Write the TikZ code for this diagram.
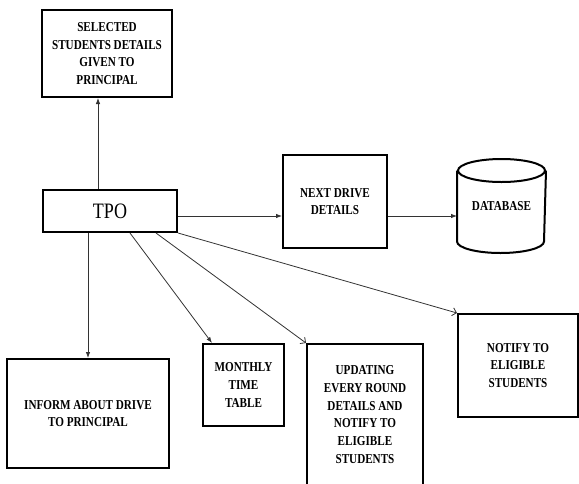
\documentclass[tikz,border=0pt]{standalone}
\usepackage{fontspec}
\setmainfont{Liberation Serif}
\newfontfamily\narrowfont[FakeStretch=0.82]{Liberation Serif}
\usetikzlibrary{arrows.meta}

\tikzset{
	box/.style = {draw, line width=2pt, align=center, inner sep=2pt,
		font=\narrowfont\bfseries\fontsize{13.6}{17.7}\selectfont},
	flow/.style = {draw=black!80, line width=0.8pt, -{Latex[length=6pt, width=4.5pt]}},
	openflow/.style = {draw=black!80, line width=0.8pt, -{Straight Barb[length=4pt, width=8pt]}}
}

\begin{document}
\begin{tikzpicture}[x=1pt, y=-1pt]

		\pgfmathsetmacro{\dbrx}{43.5}
		\pgfmathsetmacro{\dbry}{11.5}

		\useasboundingbox (0, 0) rectangle (579, 483);
		\clip (0, 0) rectangle (579, 483);

		% draw the boxes
		\node[box, minimum width=134pt, minimum height=42pt, font=\narrowfont\fontsize{22}{24}\selectfont] (tpo) at (110, 211) {TPO};
		\node[box, minimum width=130pt, minimum height=87pt] (selected) at (107, 53.5) {SELECTED\\STUDENTS DETAILS\\GIVEN TO\\PRINCIPAL};
		\node[box, minimum width=104pt, minimum height=93pt] (nextdrive) at (335, 201.5) {NEXT DRIVE\\DETAILS};
		\node[box, draw=none, minimum width=87pt, minimum height=92pt] (database) at (501.5, 206) {DATABASE};
		\node[box, minimum width=162pt, minimum height=109pt] (inform) at (88, 413.5) {INFORM ABOUT DRIVE\\TO PRINCIPAL};
		\node[box, minimum width=81pt, minimum height=82pt] (monthly) at (243.5, 385) {MONTHLY\\TIME\\TABLE};
		\node[box, minimum width=116pt, minimum height=141pt] (updating) at (365, 414.5) {UPDATING\\EVERY ROUND\\DETAILS AND\\NOTIFY TO\\ELIGIBLE\\STUDENTS};
		\node[box, minimum width=120pt, minimum height=103pt] (notify) at (518, 365.5) {NOTIFY TO\\ELIGIBLE\\STUDENTS};

		% draw the database cylinder
		\begin{scope}[line width=2pt]
			\draw ([yshift=-\dbry pt]database.north) ellipse [x radius=\dbrx pt, y radius=\dbry pt];
			\draw ([yshift=-\dbry pt]database.north west) --
				([yshift=\dbry pt]database.south west)
				arc [start angle=180, end angle=360, x radius=\dbrx pt, y radius=\dbry pt] --
				([yshift=-\dbry pt]database.north east);
		\end{scope}

		% draw the connectors
		\draw[flow] ([xshift=-12pt]tpo.north) -- ([xshift=-12pt]tpo.north |- selected.south);
		\draw[flow] ([yshift=-5pt]tpo.east) -- ([yshift=-5pt]tpo.east -| nextdrive.west);
		\draw[flow] ([yshift=-14.5pt]nextdrive.east) -- ([yshift=-14.5pt]nextdrive.east -| database.west);
		\draw[flow] ([xshift=-22pt]tpo.south) -- ([xshift=-22pt]tpo.south |- inform.north);
		\draw[flow] ([xshift=20pt]tpo.south) -- ([xshift=10pt]monthly.north west);
		\draw[openflow] ([xshift=46pt]tpo.south) -- (updating.north west);
		\draw[openflow] (tpo.south east) -- (notify.north west);

	\end{tikzpicture}
\end{document}
